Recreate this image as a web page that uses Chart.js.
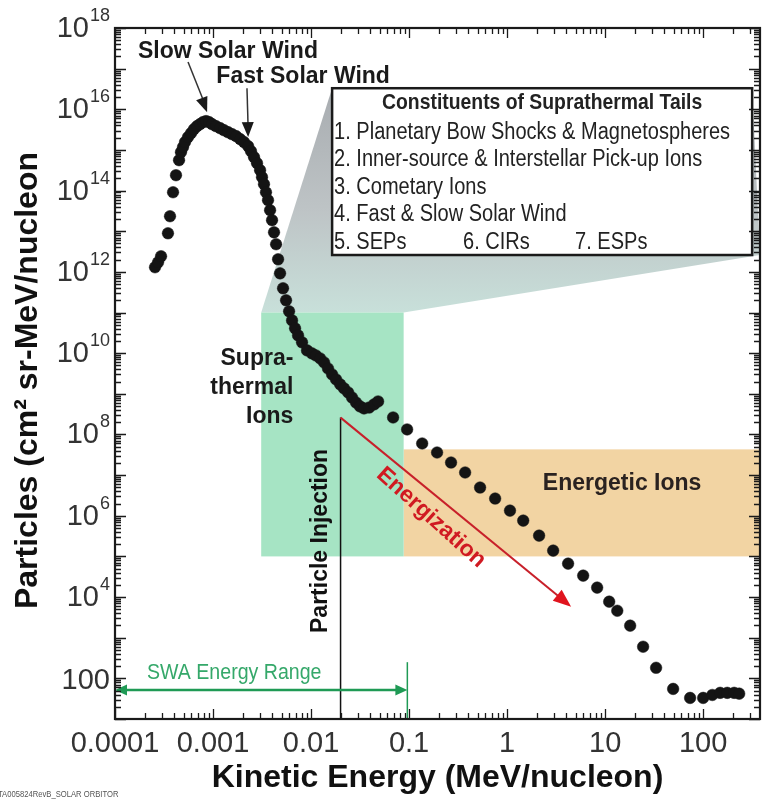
<!DOCTYPE html>
<html>
<head>
<meta charset="utf-8">
<script src="https://cdn.jsdelivr.net/npm/chart.js@4.4.1/dist/chart.umd.min.js"></script>
<style>
  html, body { margin: 0; padding: 0; background: #fff; }
  #wrap { width: 769px; height: 807px; position: relative; }
</style>
</head>
<body>
<div id="wrap"><canvas id="chart"></canvas></div>
<script>
// Ion spectrum: kinetic energy (MeV/nucleon) vs particle flux
const energy = [
  2.56e-4, 2.75e-4, 2.95e-4, 3.47e-4, 3.64e-4, 3.91e-4, 4.19e-4, 4.50e-4,
  4.71e-4, 4.94e-4, 5.18e-4, 5.56e-4, 5.97e-4, 6.40e-4, 6.87e-4, 7.37e-4, 7.91e-4, 8.49e-4, 9.10e-4, 9.77e-4,
  1.07e-3, 1.18e-3, 1.29e-3, 1.42e-3, 1.56e-3, 1.72e-3, 1.89e-3, 2.07e-3,
  2.28e-3, 2.44e-3, 2.62e-3, 2.81e-3, 3.02e-3, 3.16e-3, 3.31e-3, 3.47e-3, 3.64e-3, 3.82e-3, 4.00e-3, 4.19e-3,
  4.40e-3, 4.61e-3, 4.83e-3, 5.18e-3, 5.56e-3, 5.97e-3, 6.40e-3, 6.87e-3, 7.37e-3, 8.09e-3, 9.10e-3,
  1.02e-2, 1.12e-2, 1.24e-2, 1.36e-2, 1.49e-2, 1.64e-2, 1.80e-2, 1.98e-2, 2.17e-2, 2.39e-2, 2.62e-2, 2.88e-2,
  3.16e-2, 3.47e-2, 3.91e-2, 4.40e-2, 4.83e-2,
  6.87e-2, 9.55e-2,
  0.136, 0.193, 0.268, 0.373, 0.530, 0.755, 1.07, 1.46, 2.12, 2.95, 4.19, 5.97, 8.29, 11.0, 13.3, 18.0,
  24.4, 33.1, 49.4, 73.6, 100, 124, 149, 176, 207, 233
];
const flux = [
  1.30e12, 1.72e12, 2.42e12, 8.9e12, 2.34e13, 9.1e13, 2.39e14, 5.6e14,
  8.8e14, 1.17e15, 1.56e15, 2.07e15, 2.59e15, 3.25e15, 3.86e15, 4.32e15, 4.84e15, 5.12e15, 4.84e15, 4.32e15,
  3.86e15, 3.44e15, 3.07e15, 2.74e15, 2.45e15, 2.19e15, 1.85e15, 1.56e15,
  1.24e15, 9.3e14, 6.65e14, 4.73e14, 3.18e14, 2.14e14, 1.44e14, 9.1e13, 5.8e13, 3.29e13, 1.87e13, 9.4e12,
  4.79e12, 2.04e12, 9.2e11, 3.95e11, 2.0e11, 1.07e11, 6.4e10, 4.08e10, 2.74e10, 1.85e10, 1.17e10,
  9.9e9, 8.8e9, 7.4e9, 5.9e9, 4.2e9, 3.0e9, 2.26e9, 1.71e9, 1.36e9, 1.08e9, 8.1e8, 6.1e8,
  4.9e8, 4.37e8, 4.6e8, 5.5e8, 6.5e8,
  2.62e8, 1.33e8,
  6.0e7, 3.6e7, 2.04e7, 1.16e7, 4.95e6, 2.65e6, 1.34e6, 7.6e5, 3.25e5, 1.39e5, 6.65e4, 3.37e4, 1.71e4, 7.7e3, 4.6e3, 1.98e3,
  600, 182, 55, 33, 33, 39, 44, 44, 44, 42
];

// Axis ticks and labels
const xTickValues = [1e-4, 1e-3, 1e-2, 0.1, 1, 10, 100];
const xTickLabels = ['0.0001', '0.001', '0.01', '0.1', '1', '10', '100'];
const yTickValues = [1e2, 1e4, 1e6, 1e8, 1e10, 1e12, 1e14, 1e16, 1e18];
const yTickBase   = ['100', '10', '10', '10', '10', '10', '10', '10', '10'];
const yTickExp    = ['', '4', '6', '8', '10', '12', '14', '16', '18'];
const yTitle = 'Particles (cm² sr-MeV/nucleon';

// Energy / flux ranges of the shaded populations
const supraRange     = { e: [0.0031, 0.088], f: [1e5, 1e11] };
const energeticRange = { e: [0.088, 380],    f: [1e5, 4.3e7] };
const swaRange       = [1e-4, 0.096];
const injectionEnergy = 0.02;

// Legend text
const legendTitle = 'Constituents of Suprathermal Tails';
const legendItems = [
  '1. Planetary Bow Shocks & Magnetospheres',
  '2. Inner-source & Interstellar Pick-up Ions',
  '3. Cometary Ions',
  '4. Fast & Slow Solar Wind'
];
const legendLastRow = ['5. SEPs', '6. CIRs', '7. ESPs'];

const FONT = '"Liberation Sans", Arial, Helvetica, sans-serif';
Chart.defaults.font.family = FONT;

function txt(ctx, s, x, y, opt) {
  const o = Object.assign({ size: 22, weight: 'normal', color: '#111', align: 'left', sx: 1, rot: 0, base: 'middle' }, opt);
  ctx.save();
  ctx.translate(x, y);
  ctx.rotate(o.rot);
  ctx.scale(o.sx, 1);
  ctx.font = `${o.weight} ${o.size}px ${FONT}`;
  ctx.fillStyle = o.color;
  ctx.textAlign = o.align;
  ctx.textBaseline = o.base;
  ctx.fillText(s, 0, 0);
  ctx.restore();
}

function arrowHead(ctx, x1, y1, x2, y2, len, w, color) {
  const a = Math.atan2(y2 - y1, x2 - x1);
  ctx.save();
  ctx.translate(x2, y2);
  ctx.rotate(a);
  ctx.beginPath();
  ctx.moveTo(0, 0);
  ctx.lineTo(-len, -w / 2);
  ctx.lineTo(-len, w / 2);
  ctx.closePath();
  ctx.fillStyle = color;
  ctx.fill();
  ctx.restore();
}

function line(ctx, x1, y1, x2, y2, color, w) {
  ctx.save();
  ctx.beginPath();
  ctx.moveTo(x1, y1);
  ctx.lineTo(x2, y2);
  ctx.strokeStyle = color;
  ctx.lineWidth = w;
  ctx.stroke();
  ctx.restore();
}

const decor = {
  id: 'decor',
  beforeDatasetsDraw(chart) {
    const { ctx, chartArea: ca } = chart;
    const X = v => chart.scales.x.getPixelForValue(v);
    const Y = v => chart.scales.y.getPixelForValue(v);
    ctx.save();
    ctx.beginPath();
    ctx.rect(ca.left, ca.top, ca.right - ca.left, ca.bottom - ca.top);
    ctx.clip();

    // funnel from the suprathermal band up to the legend box
    const gx0 = X(supraRange.e[0]), gx1 = X(supraRange.e[1]), gy = Y(supraRange.f[1]);
    const bx0 = X(0.0164), bx1 = X(316), by0 = Y(3.3e16), by1 = Y(2.6e12);
    const grad = ctx.createLinearGradient(0, by0, 0, gy);
    grad.addColorStop(0, 'rgb(168,172,176)');
    grad.addColorStop(0.55, 'rgb(190,196,198)');
    grad.addColorStop(1, 'rgb(200,224,218)');
    ctx.beginPath();
    ctx.moveTo(gx0, gy);
    ctx.lineTo(bx0, by0);
    ctx.lineTo(bx1, by0);
    ctx.lineTo(ca.right, by1);
    ctx.lineTo(gx1, gy);
    ctx.closePath();
    ctx.fillStyle = grad;
    ctx.fill();

    // energetic ions band
    ctx.fillStyle = 'rgb(242,212,163)';
    ctx.fillRect(X(energeticRange.e[0]), Y(energeticRange.f[1]),
      X(energeticRange.e[1]) - X(energeticRange.e[0]), Y(energeticRange.f[0]) - Y(energeticRange.f[1]));
    // suprathermal band
    ctx.fillStyle = 'rgb(166,228,196)';
    ctx.fillRect(gx0, gy, gx1 - gx0, Y(supraRange.f[0]) - gy);
    ctx.restore();
  },
  afterDatasetsDraw(chart) {
    const { ctx, chartArea: ca } = chart;
    const X = v => chart.scales.x.getPixelForValue(v);
    const Y = v => chart.scales.y.getPixelForValue(v);

    // legend box
    const bx0 = X(0.0164), bx1 = X(316), by0 = Y(3.3e16), by1 = Y(2.6e12);
    ctx.save();
    ctx.fillStyle = '#fff';
    ctx.fillRect(bx0, by0, bx1 - bx0, by1 - by0);
    ctx.strokeStyle = '#1a1a1a';
    ctx.lineWidth = 2.5;
    ctx.strokeRect(bx0, by0, bx1 - bx0, by1 - by0);
    ctx.restore();
    txt(ctx, legendTitle, (bx0 + bx1) / 2, by0 + 15, { size: 22, weight: 'bold', align: 'center', sx: 0.88, color: '#222' });
    legendItems.forEach((s, i) => {
      txt(ctx, s, bx0 + 2, by0 + 44 + i * 27.5, { size: 23, sx: 0.87, color: '#222' });
    });
    const lastY = by0 + 44 + 4 * 27.5;
    txt(ctx, legendLastRow[0], bx0 + 2, lastY, { size: 23, sx: 0.87, color: '#222' });
    txt(ctx, legendLastRow[1], bx0 + 131, lastY, { size: 23, sx: 0.87, color: '#222' });
    txt(ctx, legendLastRow[2], bx0 + 243, lastY, { size: 23, sx: 0.87, color: '#222' });

    // solar wind labels with arrows to the peak
    txt(ctx, 'Slow Solar Wind', X(1.42e-3), Y(2.6e17), { size: 23, weight: 'bold', align: 'center', color: '#1a1a1a' });
    txt(ctx, 'Fast Solar Wind', X(8.3e-3), Y(6.2e16), { size: 23, weight: 'bold', align: 'center', color: '#1a1a1a' });
    let x1 = X(5.56e-4), y1 = Y(1.45e17), x2 = X(8.7e-4), y2 = Y(8.5e15);
    line(ctx, x1, y1, x2 - 3, y2 - 10, '#333', 1.5);
    arrowHead(ctx, x1, y1, x2, y2, 15, 12, '#1a1a1a');
    x1 = X(2.22e-3); y1 = Y(3.3e16); x2 = X(2.28e-3); y2 = Y(2.07e15);
    line(ctx, x1, y1, x2, y2 - 10, '#333', 1.5);
    arrowHead(ctx, x1, y1, x2, y2, 15, 12, '#1a1a1a');

    // suprathermal / energetic labels
    txt(ctx, 'Supra-', X(6.6e-3), Y(7.4e9), { size: 23, weight: 'bold', align: 'right', color: '#1a1a1a' });
    txt(ctx, 'thermal', X(6.6e-3), Y(1.45e9), { size: 23, weight: 'bold', align: 'right', color: '#1a1a1a' });
    txt(ctx, 'Ions', X(6.6e-3), Y(2.75e8), { size: 23, weight: 'bold', align: 'right', color: '#1a1a1a' });
    txt(ctx, 'Energetic Ions', X(14.9), Y(6.2e6), { size: 23, weight: 'bold', align: 'center', color: '#2a2220' });

    // particle injection line and energization arrow
    const ix = X(injectionEnergy), iy = Y(2.6e8);
    line(ctx, ix, iy, ix, ca.bottom, '#111', 1.5);
    txt(ctx, 'Particle Injection', X(0.01265), Y(2.4e5), { size: 23, weight: 'bold', align: 'center', color: '#111', rot: -Math.PI / 2 });
    const tx = X(4.5), ty = Y(5.8e3);
    const ang = Math.atan2(ty - iy, tx - ix);
    line(ctx, ix, iy, tx - 10 * Math.cos(ang), ty - 10 * Math.sin(ang), '#c8202a', 2);
    arrowHead(ctx, ix, iy, tx, ty, 18, 14, '#e0141e');
    txt(ctx, 'Energization', X(0.168), Y(9.0e5), { size: 23, weight: 'bold', align: 'center', color: '#d01a22', rot: ang + 0.045 });

    // SWA energy range
    const sy = Y(52), sx0 = X(swaRange[0]), sx1 = X(swaRange[1]);
    line(ctx, sx0 + 6, sy, sx1 - 6, sy, '#1f9a55', 2.5);
    arrowHead(ctx, sx1, sy, sx0, sy, 12, 11, '#1f9a55');
    arrowHead(ctx, sx0, sy, sx1, sy, 12, 11, '#1f9a55');
    line(ctx, sx1, Y(250), sx1, ca.bottom, '#1f9a55', 1.5);
    txt(ctx, 'SWA Energy Range', X(2.12e-4), Y(137), { size: 22, sx: 0.89, color: '#35a86a' });
  },
  afterDraw(chart) {
    const { ctx, chartArea: ca } = chart;
    const xs = chart.scales.x, ys = chart.scales.y;
    ctx.save();
    ctx.strokeStyle = '#1a1a1a';
    ctx.lineWidth = 1.3;
    // inward ticks on all four sides
    ctx.beginPath();
    for (let n = -4; n <= 2; n++) {
      for (let k = 1; k <= 9; k++) {
        const v = k * Math.pow(10, n);
        if (v < xs.min || v > xs.max) continue;
        const px = Math.round(xs.getPixelForValue(v)) + 0.5;
        const len = k === 1 ? 10 : 6;
        ctx.moveTo(px, ca.bottom); ctx.lineTo(px, ca.bottom - len);
        ctx.moveTo(px, ca.top); ctx.lineTo(px, ca.top + len);
      }
    }
    for (let n = 1; n <= 18; n++) {
      for (let k = 1; k <= 9; k++) {
        const v = k * Math.pow(10, n);
        if (v < ys.min || v > ys.max) continue;
        const py = Math.round(ys.getPixelForValue(v)) + 0.5;
        const len = k === 1 ? 11 : 6;
        ctx.moveTo(ca.left, py); ctx.lineTo(ca.left + len, py);
        ctx.moveTo(ca.right, py); ctx.lineTo(ca.right - len, py);
      }
    }
    ctx.stroke();
    // frame
    ctx.lineWidth = 2.2;
    ctx.strokeRect(ca.left, ca.top, ca.right - ca.left, ca.bottom - ca.top);
    ctx.restore();

    // y tick labels with superscript exponents
    yTickValues.forEach((v, i) => {
      const py = ys.getPixelForValue(v);
      const right = ca.left - 5;
      if (yTickExp[i]) {
        ctx.save();
        ctx.font = `18px ${FONT}`;
        const ew = ctx.measureText(yTickExp[i]).width;
        ctx.restore();
        txt(ctx, yTickExp[i], right, py - 12, { size: 18, align: 'right', color: '#333' });
        txt(ctx, yTickBase[i], right - ew - 1, py + 1, { size: 29, align: 'right', color: '#333' });
      } else {
        txt(ctx, yTickBase[i], right, py + 3, { size: 29, align: 'right', color: '#333' });
      }
    });

    // y axis title
    txt(ctx, yTitle, 28, (ca.top + ca.bottom) / 2 + 7, { size: 32, weight: 'bold', align: 'center', color: '#111', rot: -Math.PI / 2 });

    // figure id
    txt(ctx, 'TA005824RevB_SOLAR ORBITOR', -2, 795, { size: 9, sx: 0.85, color: '#555' });
  }
};

new Chart(document.getElementById('chart'), {
  type: 'scatter',
  data: {
    datasets: [{
      label: 'Ions',
      data: energy.map((e, i) => ({ x: e, y: flux[i] })),
      pointRadius: 5.8,
      pointBackgroundColor: '#141414',
      pointBorderColor: '#141414',
      pointBorderWidth: 0.5,
      showLine: false
    }]
  },
  options: {
    responsive: true,
    maintainAspectRatio: false,
    animation: false,
    layout: { padding: { top: 28, right: 9, left: 0, bottom: 0 } },
    plugins: { legend: { display: false }, tooltip: { enabled: false } },
    scales: {
      x: {
        type: 'logarithmic',
        min: 1e-4,
        max: 380,
        afterBuildTicks: s => { s.ticks = xTickValues.map(v => ({ value: v })); },
        afterFit: s => { s.height = 88; },
        grid: { display: false, drawTicks: false },
        border: { display: false },
        ticks: {
          autoSkip: false, maxRotation: 0, minRotation: 0, padding: 8,
          color: '#333', font: { size: 29 },
          callback: v => xTickLabels[xTickValues.indexOf(v)]
        },
        title: {
          display: true, text: 'Kinetic Energy (MeV/nucleon)', color: '#111',
          font: { size: 32, weight: 'bold' }, padding: { top: 0, bottom: 10 }
        }
      },
      y: {
        type: 'logarithmic',
        min: 10,
        max: 1e18,
        afterBuildTicks: s => { s.ticks = yTickValues.map(v => ({ value: v })); },
        afterFit: s => { s.width = 115; },
        grid: { display: false, drawTicks: false },
        border: { display: false },
        ticks: { display: false },
        title: { display: false }
      }
    }
  },
  plugins: [decor]
});
</script>
</body>
</html>
